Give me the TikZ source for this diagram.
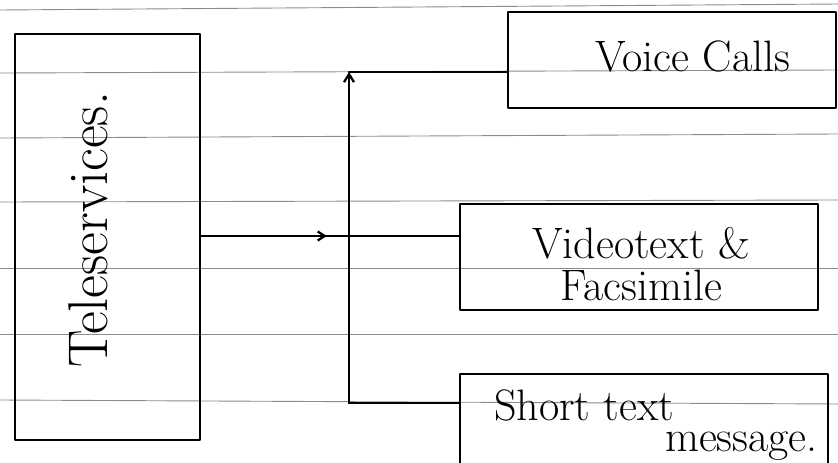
\documentclass[tikz,border=0pt]{standalone}
\usetikzlibrary{arrows.meta,decorations.markings}
\begin{document}
\begin{tikzpicture}[x=1pt,y=-1pt,
  ink/.style={line width=2.3pt,black,line cap=round,line join=round},
  boxnode/.style={ink,draw,rectangle,inner sep=0pt,align=center},
  rule/.style={line width=0.9pt,black!45},
  lbl/.style={font=\fontsize{44}{42}\selectfont,inner sep=0pt},
  midarrow/.style={postaction={decorate},decoration={markings,mark=at position #1 with {\arrow{Straight Barb[length=7pt,width=9pt]}}}}
]
\useasboundingbox (0,0) rectangle (838,463);
\clip (0,0) rectangle (838,463);
% ruled paper lines
\foreach \yy/\yr in {10/4,73/70,138/134,202/200,268/268,334/334,400/404}{
  \draw[rule] (0,\yy) -- (838,\yr);
}
% boxes
\node[boxnode,minimum width=185pt,minimum height=406pt] (tele) at (107.5,237) {};
\node[rotate=90,inner sep=0pt,font=\fontsize{56}{58}\selectfont] (telelbl) at (88,230) {Teleservices.};
\node[boxnode,minimum width=328pt,minimum height=96pt] (voice) at (672,60) {};
\node[lbl] (voicelbl) at (693,56) {Voice Calls};
\node[boxnode,minimum width=358pt,minimum height=106pt] (video) at (639,257) {};
\node[lbl,align=center] (videolbl) at (641,264) {Videotext \&\\Facsimile};
\node[boxnode,minimum width=368pt,minimum height=104pt] (short) at (644,426) {};
\node[lbl,anchor=base west] (shortlbl1) at (494,420) {Short text};
\node[lbl,anchor=base east] (shortlbl2) at (818,451) {message.};
% bus coordinates
\coordinate (btop) at (349,72);
\coordinate (bbot) at (349,403);
\coordinate (j) at (349,236);
% connectors
\draw[ink,midarrow=0.85] (tele.east |- j) -- (j);
\draw[ink] (j) -- (j -| video.west);
\draw[ink,-{Straight Barb[length=8pt,width=10pt]}] (bbot) -- (btop);
\draw[ink] (btop) -- (btop -| voice.west);
\draw[ink] (bbot) -- (bbot -| short.west);
\end{tikzpicture}
\end{document}
